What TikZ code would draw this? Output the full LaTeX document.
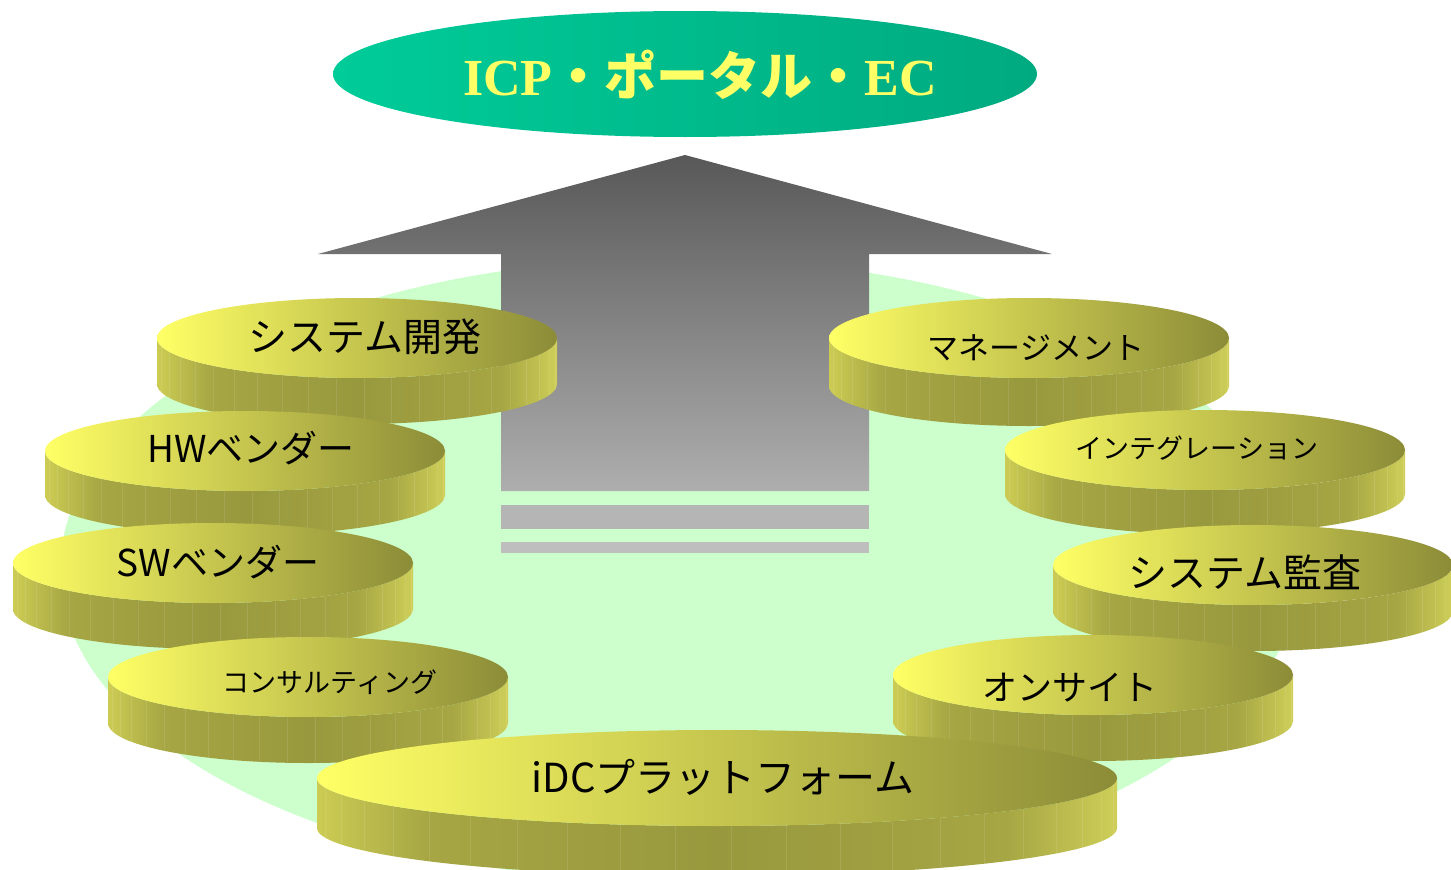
\documentclass[tikz,border=0pt]{standalone}
\usepackage{fontspec}
\setmainfont{Liberation Serif}
\newfontfamily\jp{Noto Sans CJK JP}
\definecolor{bgGreen}{RGB}{204,255,204}
\definecolor{tealL}{RGB}{0,204,153}
\definecolor{tealR}{RGB}{0,170,128}
\definecolor{titleYellow}{RGB}{255,255,102}
\definecolor{arrT}{RGB}{88,88,88}
\definecolor{arrB}{RGB}{174,174,174}
\definecolor{barA}{RGB}{181,181,181}
\definecolor{barB}{RGB}{190,190,190}
\definecolor{topL}{RGB}{255,255,102}
\definecolor{topM}{RGB}{210,210,82}
\definecolor{topR}{RGB}{140,140,56}
\definecolor{sideL}{RGB}{204,204,84}
\definecolor{sideA}{RGB}{166,166,68}
\definecolor{sideM}{RGB}{152,152,62}
\definecolor{sideR}{RGB}{206,206,88}
\pgfdeclarehorizontalshading{coinside}{100bp}{color(0bp)=(sideL); color(25bp)=(sideL); color(32bp)=(sideA); color(50bp)=(sideM); color(68bp)=(sideA); color(75bp)=(sideR); color(100bp)=(sideR)}
\tikzset{
  sideline/.style={draw=white, opacity=0.10, line width=0.5pt},
  cointext/.style={font=\jp, text=black, inner sep=0pt, anchor=center},
}
\newcommand\coin[6]{%
  \shade[shading=coinside] (#2-#4,#3) -- (#2-#4,#3+#6)
    arc[start angle=180, end angle=0, x radius=#4, y radius=#5]
    -- (#2+#4,#3)
    arc[start angle=0, end angle=180, x radius=#4, y radius=#5] -- cycle;
  \foreach \a in {8,16,...,172} \draw[sideline] ({#2+#4*cos(\a)},{#3+#5*sin(\a)}) -- ++(0,#6);
  \shade[left color=topL, middle color=topM, right color=topR] (#2,#3) ellipse[x radius=#4, y radius=#5];
  \coordinate (#1) at (#2,#3);
}
\begin{document}
\begin{tikzpicture}[x=1pt,y=-1pt]
\useasboundingbox (0,0) rectangle (1451,870);
\clip (0,0) rectangle (1451,870);
% background
\fill[bgGreen] (680,570) ellipse[x radius=620, y radius=312];
% arrow
\shade[top color=arrT, bottom color=arrB] (685,155) -- (1052,254) -- (869,254) -- (869,491) -- (501,491) -- (501,254) -- (318,254) -- cycle;
\fill[barA] (501,505) rectangle (869,529);
\fill[barB] (501,542) rectangle (869,553);
% title
\shade[left color=tealL, right color=tealR] (685,74) ellipse[x radius=352, y radius=63];
\node[font=\bfseries\fontsize{52}{56}\selectfont, text=titleYellow, inner sep=0pt] (title) at (700,75) {ICP{\jp\bfseries ・ポータル・}EC};
% left coins
\coin{c1}{357}{338}{200}{40}{46}
\node[cointext, font=\jp\fontsize{39}{42}\selectfont] (t1) at (365,337) {システム開発};
\coin{c2}{245}{451}{200}{40}{44}
\node[cointext, font=\jp\fontsize{37}{40}\selectfont] (t2) at (251,448) {HWベンダー};
\coin{c3}{213}{563}{200}{40}{46}
\node[cointext, font=\jp\fontsize{37}{40}\selectfont] (t3) at (218,562) {SWベンダー};
\coin{c4}{308}{677}{200}{40}{46}
\node[cointext, font=\jp\fontsize{27}{30}\selectfont] (t4) at (330,682) {コンサルティング};
% right coins
\coin{c6}{1029}{338}{200}{40}{48}
\node[cointext, font=\jp\fontsize{31}{34}\selectfont] (t6) at (1036,348) {マネージメント};
\coin{c7}{1205}{450}{200}{40}{44}
\node[cointext, font=\jp\fontsize{27}{30}\selectfont] (t7) at (1197,448) {インテグレーション};
\coin{c8}{1253}{565}{200}{40}{46}
\node[cointext, font=\jp\fontsize{39}{42}\selectfont] (t8) at (1245,572) {システム監査};
\coin{c9}{1093}{675}{200}{40}{46}
\node[cointext, font=\jp\fontsize{35}{38}\selectfont] (t9) at (1070,688) {オンサイト};
% bottom coin
\coin{c5}{717}{778}{400}{48}{50}
\node[cointext, font=\jp\fontsize{40}{44}\selectfont] (t5) at (723,777) {iDCプラットフォーム};
\end{tikzpicture}
\end{document}
